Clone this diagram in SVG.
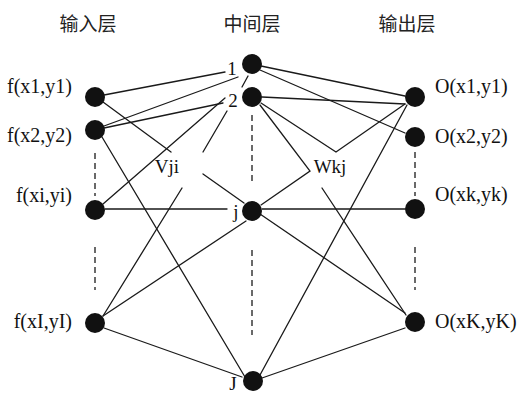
<svg xmlns="http://www.w3.org/2000/svg" width="517" height="395" viewBox="0 0 517 395">
<style>
.bg{fill:#fff}
.hd{font-family:"Noto Sans CJK SC","Noto Sans",sans-serif;font-size:19px;fill:#222;text-anchor:middle}
.lb{font-family:"Liberation Serif","Times New Roman",serif;font-size:20px;fill:#111}
.sm{font-family:"Liberation Serif","Times New Roman",serif;font-size:19px;fill:#111;text-anchor:middle}
.nd{fill:#111}
.ln{stroke:#1a1a1a;stroke-width:1.3;fill:none;stroke-linecap:round}
.ds{stroke:#1a1a1a;stroke-width:1.3;fill:none;stroke-dasharray:6,4}
</style>
<rect class="bg" x="0" y="0" width="517" height="395"/>
<g id="headers">
<text class="hd" x="88" y="31">输入层</text>
<text class="hd" x="252" y="31">中间层</text>
<text class="hd" x="407" y="31">输出层</text>
</g>
<g id="connectors">
<path class="ln" d="M104,95 L225,72"/>
<path class="ln" d="M103,102 L171,152 M203,174 L244,203"/>
<path class="ln" d="M104,126 L238,77"/>
<path class="ln" d="M104,128 L223,103"/>
<path class="ln" d="M102,137 L245,377"/>
<path class="ln" d="M103,204 L225,98"/>
<path class="ln" d="M105,209 L227,209"/>
<path class="ln" d="M103,316 L182,188 M203,152 L227,111 M242,87 L248,76"/>
<path class="ln" d="M103,316 L246,221"/>
<path class="ln" d="M104,328 L242,377"/>
<path class="ln" d="M261,66 L405,96"/>
<path class="ln" d="M260,70 L405,133"/>
<path class="ln" d="M262,97 L405,104"/>
<path class="ln" d="M261,103 L336,152 L405,104"/>
<path class="ln" d="M260,105 L310,171 L261,205"/>
<path class="ln" d="M322,188 L406,315"/>
<path class="ln" d="M262,209 L405,209"/>
<path class="ln" d="M260,214 L405,313"/>
<path class="ln" d="M407,105 L260,375"/>
<path class="ln" d="M405,328 L262,378"/>
<path class="ds" d="M95,153 V196 M95,247 V290"/>
<path class="ds" d="M252,115 V182 M252,250 V335"/>
<path class="ds" d="M415,152 V196 M415,247 V290"/>
</g>
<g id="in1"><circle class="nd" cx="95" cy="97" r="10"/><text class="lb" x="72" y="93" text-anchor="end">f(x1,y1)</text></g>
<g id="in2"><circle class="nd" cx="95" cy="130" r="10"/><text class="lb" x="72" y="142" text-anchor="end">f(x2,y2)</text></g>
<g id="ini"><circle class="nd" cx="95" cy="210" r="10"/><text class="lb" x="72" y="202" text-anchor="end">f(xi,yi)</text></g>
<g id="inI"><circle class="nd" cx="95" cy="323" r="10"/><text class="lb" x="72" y="328" text-anchor="end">f(xI,yI)</text></g>
<g id="h1"><circle class="nd" cx="252" cy="64" r="10"/><text class="sm" x="232" y="75">1</text></g>
<g id="h2"><circle class="nd" cx="252" cy="97" r="10"/><text class="sm" x="233" y="107">2</text></g>
<g id="hj"><circle class="nd" cx="252" cy="211" r="10"/><text class="sm" x="236" y="218">j</text></g>
<g id="hJ"><circle class="nd" cx="253" cy="381" r="10"/><text class="sm" x="233" y="390">J</text></g>
<g id="o1"><circle class="nd" cx="415" cy="97" r="10"/><text class="lb" x="435" y="93">O(x1,y1)</text></g>
<g id="o2"><circle class="nd" cx="415" cy="137" r="10"/><text class="lb" x="435" y="143">O(x2,y2)</text></g>
<g id="ok"><circle class="nd" cx="415" cy="209" r="10"/><text class="lb" x="435" y="201">O(xk,yk)</text></g>
<g id="oK"><circle class="nd" cx="415" cy="322" r="10"/><text class="lb" x="435" y="328">O(xK,yK)</text></g>
<g id="weights">
<text class="sm" x="167" y="173">Vji</text>
<text class="sm" x="330" y="173">Wkj</text>
</g>
</svg>
